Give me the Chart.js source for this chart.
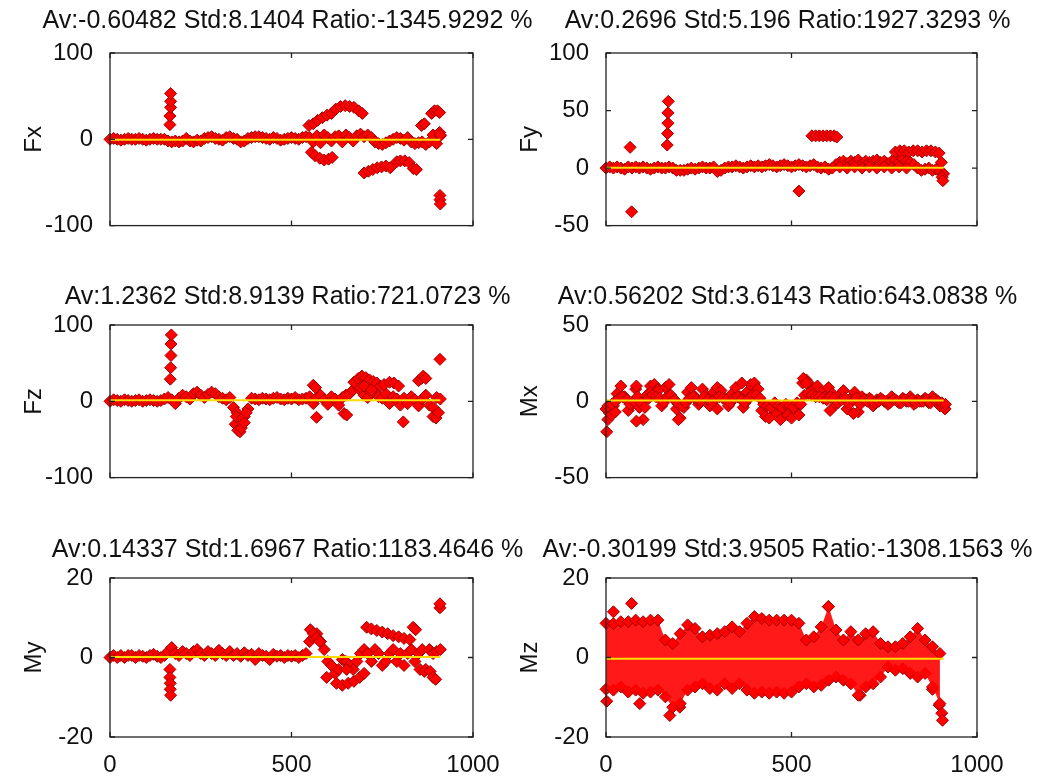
<!DOCTYPE html>
<html>
<head>
<meta charset="utf-8">
<script src="https://cdn.jsdelivr.net/npm/chart.js@4.4.1/dist/chart.umd.min.js"></script>
<style>
html, body { margin: 0; background: #fff; overflow: hidden; width: 1047px; height: 777px; }
canvas { position: absolute; }
</style>
</head>
<body>
<canvas id="c0"></canvas>
<canvas id="c1"></canvas>
<canvas id="c2"></canvas>
<canvas id="c3"></canvas>
<canvas id="c4"></canvas>
<canvas id="c5"></canvas>
<script>
// sample spacing of the base band (x = index * step)
const baseStep = 10;
const mzStep = 20;

const titles = [
    'Av:-0.60482 Std:8.1404 Ratio:-1345.9292 %',
    'Av:0.2696 Std:5.196 Ratio:1927.3293 %',
    'Av:1.2362 Std:8.9139 Ratio:721.0723 %',
    'Av:0.56202 Std:3.6143 Ratio:643.0838 %',
    'Av:0.14337 Std:1.6967 Ratio:1183.4646 %',
    'Av:-0.30199 Std:3.9505 Ratio:-1308.1563 %'
];
const yLabels = ['Fx', 'Fy', 'Fz', 'Mx', 'My', 'Mz'];
const means = [-0.60482, 0.2696, 1.2362, 0.56202, 0.14337, -0.30199];
const meanEnd = 910;
const xTicks = [0, 500, 1000];
const yTicks = [
    [-100, 0, 100],
    [-50, 0, 50, 100],
    [-100, 0, 100],
    [-50, 0, 50],
    [-20, 0, 20],
    [-20, 0, 20]
];

// Fx
const fxBase = [
    0,1,0,-1,0,1,0,0,1,0,-1,0,1,0,0,
    0,-2,-3,-2,-3,-2,1,-2,-3,-1,-2,
    1,2,3,1,0,-1,2,3,1,0,-3,-2,1,2,3,
    3,2,1,0,2,1,-1,0,1,2,1,0,2,3,
    2,-3,4,-4,5,2,-2,3,4,-3,5,2,-2,4,6,3,
    5,2,-3,-5,-6,-4,-2,0,2,1,-1,2,-3,-5,-4,-3,-6,-3,5,-5,4
];
const fxExtra = [
    [165,17],[165,27],[167,37],[167,44],[167,53],
    [548,16],[560,18],[572,22],[585,25],[598,28],[610,30],[622,35],[635,38],[648,39],[660,38],[672,37],[685,33],[695,30],
    [555,-15],[565,-19],[578,-22],[590,-24],[602,-23],[612,-21],
    [700,-39],[712,-37],[724,-35],[736,-33],[748,-32],[760,-31],[772,-33],[790,-26],[800,-25],[812,-25],[824,-27],[836,-34],[844,-35],
    [858,16],[866,18],[886,30],[894,33],[902,33],[908,31],[908,8],[910,5],
    [909,-65],[909,-70],[910,-75]
];

// Fy
const fyBase = [
    0,1,0,1,0,-1,1,0,1,0,1,0,-1,0,1,0,0,1,0,-2,-2,
    -2,-1,0,-1,0,1,0,0,1,-3,-2,0,1,1,2,1,0,1,2,1,
    2,1,2,3,2,1,2,3,2,1,2,3,2,1,2,3,1,0,1,-1,
    0,3,5,6,4,6,5,7,4,6,5,6,7,5,6,4,6,7,5,8,6,5,3,
    0,-2,-1,0,-2,-1,-3,-5
];
const fyExtra = [
    [65,18],[69,-38],[165,20],[166,30],[167,39],[167,48],[168,58],[520,-20],
    [555,28],[565,28],[575,28],[585,28],[595,28],[605,28],[615,28],[622,27],
    [630,1],[650,0],[670,1],[690,0],[710,1],[730,0],[750,1],[770,0],[790,1],[810,0],
    [780,14],[792,15],[804,15],[816,14],[828,15],[840,15],[852,14],[864,15],[876,15],[888,14],[898,13],
    [904,5],[906,-8],[908,-11]
];

// Fz
const fzBase = [
    0,2,1,0,2,1,0,1,2,0,1,2,1,0,1,3,
    5,2,-3,4,8,6,3,10,12,8,5,9,
    12,10,6,4,2,5,
    -8,-15,-25,-20,-10,
    4,3,2,4,3,2,4,5,3,2,4,3,5,2,3,
    4,6,-3,5,8,2,-4,6,3,-5,5,8,
    10,15,20,14,8,5,12,18,6,4,10,-3,6,3,-5,
    4,-3,6,2,-6,3,8,-5,-8,5,3
];
const fzExtra = [
    [166,29],[167,44],[168,60],[168,75],[169,87],
    [345,-30],[348,-20],[352,-38],[358,-40],[362,-35],[365,-22],[370,-28],[375,-15],
    [560,21],[566,18],[569,-21],[645,-16],[652,-18],
    [672,25],[684,30],[694,33],[705,31],[715,28],[725,26],[735,24],[745,20],[755,22],[770,25],[782,24],[795,20],
    [690,18],[700,20],[720,15],
    [808,-27],[850,27],[858,30],[863,33],[870,30],[890,-20],[898,-22],[905,-15],[909,55]
];

// Mx: swings, plus the dense core near zero (read at x = i*10 + 5)
const mxBase = [
    -5,-8,-3,5,10,3,-6,-2,8,-4,-12,
    4,10,11,8,-3,9,11,2,-5,-11,
    -4,6,9,3,-2,8,4,-3,6,9,
    7,2,-3,5,9,3,-4,6,11,12,
    8,-6,-10,-11,-3,-8,-12,-5,-9,-11,
    -4,-9,12,14,11,8,10,6,3,9,
    5,-2,4,7,-5,2,6,-7,3,1,
    2,-3,1,2,0,-2,3,1,-1,2,0,3,-2,1,0,2,-1,3,1,-2,-4
];
const mxCore = [
    -3,-2,0,2,3,1,-2,0,3,-1,-4,
    2,4,3,2,-1,3,4,1,-2,-3,
    -1,2,3,1,0,3,1,-1,2,3,
    2,1,-1,2,3,1,-1,2,4,4,
    2,-2,-3,-4,-1,-3,-4,-2,-3,-4,
    -1,-2,4,5,4,3,3,2,1,3,
    2,-1,1,2,-2,1,2,-2,1,0,
    1,-1,0,1,0,-1,1,0,-1,1,0,1,-1,0,0,1,-1,1,0,-1,-2
];
const mxExtra = [
    [2,-20],[5,-12],[15,-9],[25,-7],[82,-13],[82,10],[120,6],[140,7],[195,-12],[300,-5],
    [366,12],[532,15],[540,12],[604,-6],[667,-8],[900,-3],[914,-5]
];

// My
const myBase = [
    0,0.5,0,0.5,0,0.5,0.5,0,0.5,0.3,0,0.5,0.8,0.3,0,0.5,
    1.5,2.5,1,0.5,1.5,1,0.5,1.5,2,1,0.5,1.5,1,0.5,1.8,
    1,0.5,1.5,0.5,1,0.3,1.2,0.5,0.8,-0.5,1,0.5,0.3,-0.5,0.8,0.3,0.5,0,0.5,0.3,
    0.5,0,0.5,1,4,5,6,4,2,-1,
    -2,-4,-3,-0.5,-1,-2,-3,-1,1,2,
    1,-1,2,1,-2,-1,1,2,-1,1,-2,1,2,-1,1,2,-3,2,1,1.5,2
];
const myExtra = [
    [165,-3],[165,-5],[166,-6.5],[166,-8],[167,-9.5],
    [552,7],[560,6],[570,5],[578,4],
    [597,-5],[624,-6.5],[640,-7],[652,-3],[656,-6.5],[672,-6],[688,-5],[700,-4],
    [707,7.6],[720,7.2],[735,6.8],[750,6.4],[765,6],[780,5.5],[795,5.2],[810,4.8],[826,4.5],[835,7.6],[842,7],
    [854,-3],[866,-3.5],[882,-3.5],[890,-5],[897,-5.5],[909,12.5],[909,13.5]
];

// Mz: upper and lower edge of the dense band, plus stray points
const mzHigh = [
    8.6,8.5,9,9,9.4,9,9.4,9.4,4.4,3.5,6,8.2,7.3,5.2,5.6,6,6.5,7.7,6.5,8.6,
    10.3,9.8,9.4,9.4,9.4,9.4,8.6,4.4,5.2,7.7,12.8,6.9,4.4,6.5,4.4,6,6.5,3.5,2.7,2.7,
    3.5,5.2,7.3,4.4,2.7,1
];
const mzLow = [
    -8,-8.2,-7.4,-8.7,-8.2,-9,-8.7,-8.2,-9.9,-12.5,-11.6,-8.2,-7.4,-6.6,-7.8,-8.2,-6.6,-7.8,-6.6,-8.2,
    -9,-8.7,-9,-8.7,-9,-8.7,-7.4,-6.6,-7.4,-7,-5.7,-4.9,-5.7,-6.6,-9.5,-7.4,-6.6,-4.9,-2.4,-3.2,
    -2.8,-4,-4.9,-4,-7.4,-11.6
];
const mzExtra = [
    [20,11.5],[69,13.6],[2,-11],[91,-11.6],[172,-14.6],[199,-12.5],[599,12.8],[685,-9.5],
    [880,-8],[898,-12],[905,-14],[907,-15.8]
];

const FONT = "'Liberation Sans', Arial, sans-serif";
const TEXT = '#111';

// page geometry of each panel: plot left, plot width / plot top, plot height, title gap, x axis height
const cols = [[110, 363], [606, 371]];
const rows = [[53, 180, 17, 16], [325, 160, 13, 16], [578, 159, 13, 40]];
const axisW = 100, rightW = 92;

const toPts = (base, step, off) => base.map((v, i) => ({x: i * step + (off || 0), y: v}));
const toXY = list => list.map(p => ({x: p[0], y: p[1]}));

const marker = {
    showLine: false,
    pointStyle: 'rectRot',
    pointRadius: 6,
    pointBackgroundColor: '#ff0000',
    pointBorderColor: '#a00000',
    pointBorderWidth: 1,
    clip: 8,
    order: 1
};

const boxTicks = {
    id: 'boxTicks',
    afterDatasetsDraw(chart) {
        const {ctx, chartArea: a, scales: {x, y}} = chart;
        ctx.save();
        ctx.strokeStyle = '#222';
        ctx.lineWidth = 1.3;
        ctx.strokeRect(a.left, a.top, a.width, a.height);
        ctx.beginPath();
        x.ticks.forEach(t => {
            const px = x.getPixelForValue(t.value);
            ctx.moveTo(px, a.bottom); ctx.lineTo(px, a.bottom - 5);
            ctx.moveTo(px, a.top); ctx.lineTo(px, a.top + 5);
        });
        y.ticks.forEach(t => {
            const py = y.getPixelForValue(t.value);
            ctx.moveTo(a.left, py); ctx.lineTo(a.left + 5, py);
            ctx.moveTo(a.right, py); ctx.lineTo(a.right - 5, py);
        });
        ctx.stroke();
        ctx.restore();
    }
};

function datasetsFor(k) {
    const meanLine = {
        data: [{x: 0, y: means[k]}, {x: meanEnd, y: means[k]}],
        showLine: true, borderColor: '#ffdd00', borderWidth: 2, pointRadius: 0, order: 0
    };
    if (k === 5) {
        return [
            Object.assign({}, marker, {data: toPts(mzHigh, mzStep), showLine: true, borderWidth: 0,
                borderColor: 'rgba(0,0,0,0)', fill: '+1', backgroundColor: 'rgba(255,0,0,0.9)'}),
            Object.assign({}, marker, {data: toPts(mzLow, mzStep)}),
            Object.assign({}, marker, {data: toXY(mzExtra)}),
            meanLine
        ];
    }
    const base = [fxBase, fyBase, fzBase, mxBase, myBase][k];
    const extra = [fxExtra, fyExtra, fzExtra, mxExtra, myExtra][k];
    let pts = toPts(base, baseStep).concat(toXY(extra));
    if (k === 3) pts = pts.concat(toPts(mxCore, baseStep, 5));
    return [
        Object.assign({}, marker, {data: pts}),
        meanLine
    ];
}

for (let k = 0; k < 6; k++) {
    const [pl, pw] = cols[k % 2];
    const [pt, ph, gap, xh] = rows[Math.floor(k / 2)];
    const titleH = 4 + 30 + gap;
    const cv = document.getElementById('c' + k);
    cv.width = axisW + pw + rightW;
    cv.height = titleH + ph + xh;
    cv.style.left = (pl - axisW) + 'px';
    cv.style.top = (pt - titleH) + 'px';
    const ticks = yTicks[k];
    const bottomRow = k >= 4;

    new Chart(cv, {
        type: 'line',
        data: {datasets: datasetsFor(k)},
        options: {
            responsive: false,
            animation: false,
            devicePixelRatio: 1,
            layout: {autoPadding: false, padding: 0},
            plugins: {
                legend: {display: false},
                tooltip: {enabled: false},
                title: {
                    display: true,
                    text: titles[k],
                    color: TEXT,
                    font: {family: FONT, size: 25, weight: 'normal', lineHeight: 1.2},
                    padding: {top: 4, bottom: gap}
                }
            },
            scales: {
                x: {
                    type: 'linear', min: 0, max: 1000,
                    grid: {display: false}, border: {display: false},
                    afterBuildTicks: s => { s.ticks = xTicks.map(v => ({value: v})); },
                    ticks: {display: bottomRow, color: TEXT, font: {family: FONT, size: 24},
                        padding: 6, maxRotation: 0, autoSkip: false, callback: v => String(v)},
                    afterFit: s => { s.height = xh; }
                },
                y: {
                    min: ticks[0], max: ticks[ticks.length - 1],
                    grid: {display: false}, border: {display: false},
                    afterBuildTicks: s => { s.ticks = ticks.map(v => ({value: v})); },
                    ticks: {color: TEXT, font: {family: FONT, size: 24}, padding: 9,
                        autoSkip: false, callback: v => String(v)},
                    title: {display: true, text: yLabels[k], color: TEXT,
                        font: {family: FONT, size: 24}, padding: {top: 10, bottom: 0}},
                    afterFit: s => { s.width = axisW; }
                },
                yR: {
                    position: 'right', min: 0, max: 1,
                    grid: {display: false}, border: {display: false},
                    ticks: {display: false},
                    afterFit: s => { s.width = rightW; }
                }
            }
        },
        plugins: [boxTicks]
    });
}
</script>
</body>
</html>
